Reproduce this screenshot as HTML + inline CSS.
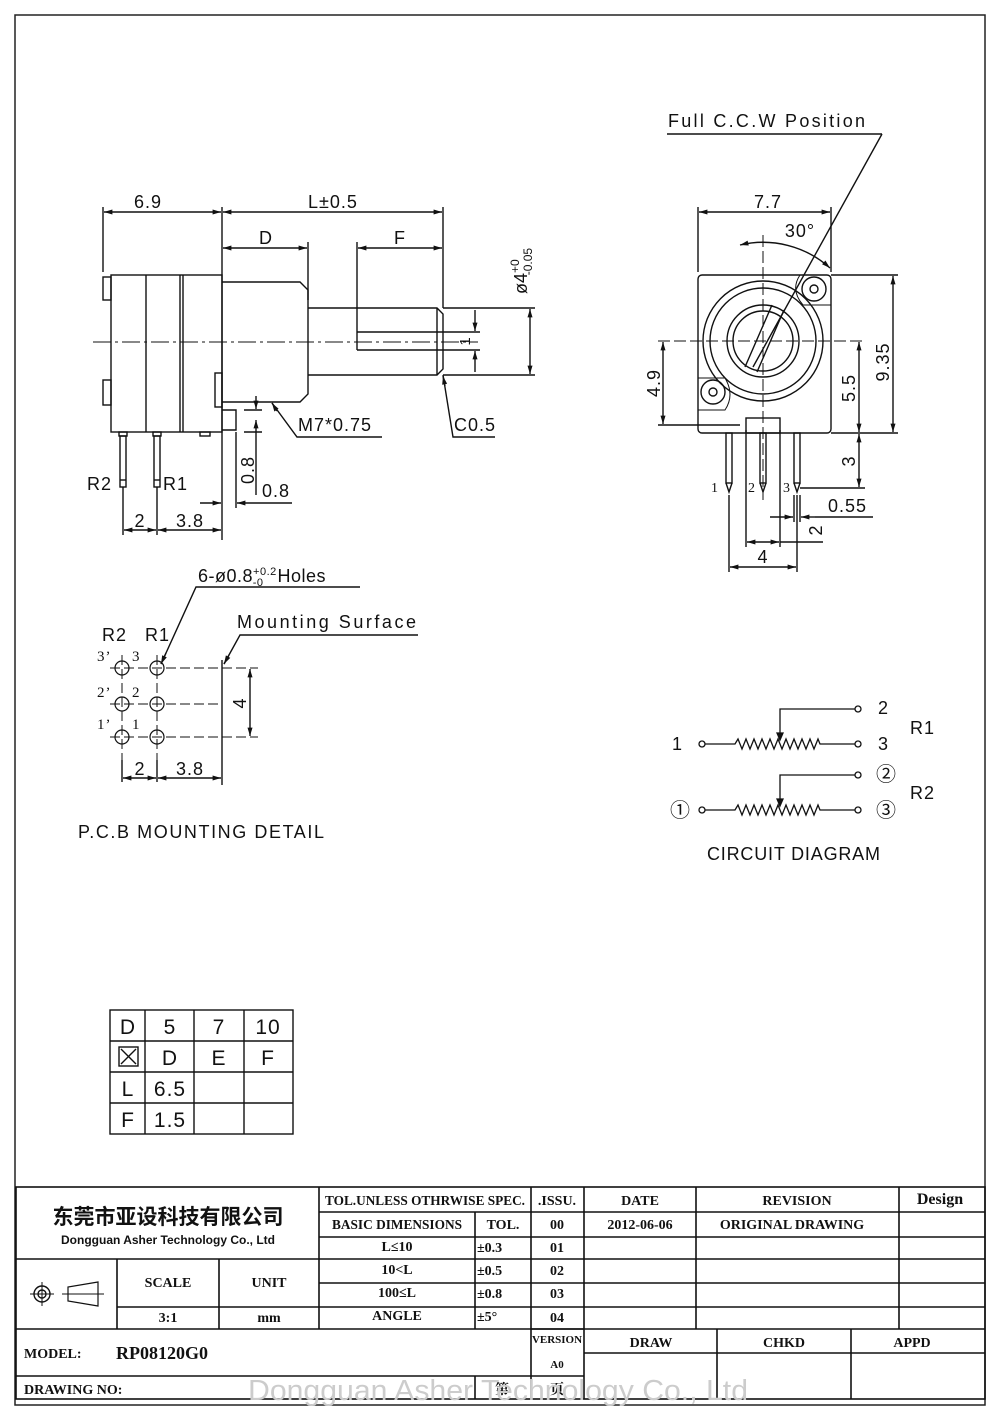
<!DOCTYPE html>
<html><head><meta charset="utf-8"><style>
html,body{margin:0;padding:0;background:#fff}
svg{display:block}
text{font-family:"Liberation Sans","Noto Sans CJK SC",sans-serif;fill:#111}
.s{font-family:"Liberation Serif","Noto Serif CJK SC",serif}
</style></head><body>
<svg width="1000" height="1415" viewBox="0 0 1000 1415" xmlns="http://www.w3.org/2000/svg">
<defs>
<marker id="a" viewBox="0 0 10 10" refX="10" refY="5" markerWidth="8" markerHeight="6" orient="auto-start-reverse"><path d="M0,2 L10,5 L0,8z" fill="#111"/></marker>
</defs>
<rect x="15" y="15" width="970" height="1390" fill="none" stroke="#222" stroke-width="1.5"/>
<g stroke="#111" stroke-width="1.4" fill="none">
<line x1="103" y1="207" x2="103" y2="272"/>
<line x1="222" y1="207" x2="222" y2="540"/>
<line x1="443" y1="207" x2="443" y2="308"/>
<line x1="308" y1="242" x2="308" y2="300"/>
<line x1="357" y1="242" x2="357" y2="332"/>
<line x1="104" y1="212" x2="221" y2="212" marker-start="url(#a)" marker-end="url(#a)"/>
<line x1="223" y1="212" x2="442" y2="212" marker-start="url(#a)" marker-end="url(#a)"/>
<line x1="223" y1="248" x2="307" y2="248" marker-start="url(#a)" marker-end="url(#a)"/>
<line x1="358" y1="248" x2="442" y2="248" marker-start="url(#a)" marker-end="url(#a)"/>
<rect x="111" y="275" width="111" height="157"/>
<line x1="146" y1="275" x2="146" y2="432"/>
<line x1="180" y1="275" x2="180" y2="432"/>
<line x1="183" y1="275" x2="183" y2="432"/>
<rect x="103" y="277" width="8" height="23"/>
<rect x="103" y="380" width="8" height="25"/>
<rect x="215" y="373" width="7" height="34"/>
<path d="M222,282 H300 L308,290 V394 L300,402 H222"/>
<path d="M222,410 H236 V430 H222"/>
<path d="M308,308 H437 L443,314 V369 L437,375 H308"/>
<path d="M357,332 H443 M357,350 H443 M357,332 V350"/>
<line x1="437" y1="308" x2="437" y2="375"/>
<line x1="93" y1="342" x2="478" y2="342" stroke-dasharray="18,4,3,4" stroke-width="1"/>
<rect x="119" y="432" width="8" height="4"/><rect x="153" y="432" width="8" height="4"/><rect x="200" y="432" width="10" height="4"/>
<rect x="120" y="436" width="6" height="51"/><rect x="154" y="436" width="6" height="51"/>
<line x1="120" y1="480" x2="126" y2="480"/><line x1="154" y1="480" x2="160" y2="480"/>
<line x1="443" y1="308" x2="535" y2="308"/><line x1="443" y1="375" x2="535" y2="375"/>
<line x1="530" y1="309" x2="530" y2="374" marker-start="url(#a)" marker-end="url(#a)"/>
<line x1="443" y1="332" x2="480" y2="332"/><line x1="443" y1="350" x2="480" y2="350"/>
<line x1="475" y1="310" x2="475" y2="331" marker-end="url(#a)"/><line x1="475" y1="372" x2="475" y2="351" marker-end="url(#a)"/>
<line x1="256" y1="396" x2="256" y2="409" marker-end="url(#a)"/><line x1="256" y1="420" x2="256" y2="433" marker-start="url(#a)"/>
<line x1="244" y1="410" x2="262" y2="410"/><line x1="244" y1="432" x2="262" y2="432"/>
<line x1="256" y1="433" x2="256" y2="495"/>
<line x1="236" y1="432" x2="236" y2="508"/>
<line x1="200" y1="503" x2="221" y2="503" marker-end="url(#a)"/><line x1="258" y1="503" x2="237" y2="503" marker-end="url(#a)"/><line x1="258" y1="503" x2="292" y2="503"/>
<path d="M272,403 L297,437 H382"/>
<line x1="272" y1="403" x2="277" y2="411" marker-start="url(#a)"/>
<path d="M443,375 L453,437 H495"/>
<line x1="443" y1="376" x2="445" y2="386" marker-start="url(#a)"/>
<line x1="123" y1="487" x2="123" y2="535"/><line x1="157" y1="487" x2="157" y2="535"/>
<line x1="124" y1="530" x2="156" y2="530" marker-start="url(#a)" marker-end="url(#a)"/>
<line x1="158" y1="530" x2="221" y2="530" marker-start="url(#a)" marker-end="url(#a)"/>
<line x1="667" y1="134" x2="882" y2="134"/>
<line x1="882" y1="134" x2="753" y2="367"/>
<line x1="698" y1="207" x2="698" y2="272"/><line x1="831" y1="207" x2="831" y2="272"/>
<line x1="699" y1="212" x2="830" y2="212" marker-start="url(#a)" marker-end="url(#a)"/>
<rect x="698" y="275" width="133" height="158" rx="4"/>
<circle cx="763" cy="341" r="60"/><circle cx="763" cy="341" r="53"/>
<circle cx="763" cy="341" r="36"/><circle cx="763" cy="341" r="30"/>
<path d="M745,367 L772,305 M757,372 L784,310"/>
<circle cx="814" cy="289" r="12"/><circle cx="814" cy="289" r="4"/>
<circle cx="713" cy="392" r="12"/><circle cx="713" cy="392" r="4"/>
<path d="M800,275 Q790,290 803,305 L831,305 M698,378 L725,378 Q735,395 725,410 L698,410" stroke-width="1"/>
<line x1="658" y1="341" x2="862" y2="341" stroke-dasharray="12,4" stroke-width="1"/>
<line x1="763" y1="235" x2="763" y2="500" stroke-dasharray="12,4" stroke-width="1"/>
<path d="M740,245 A100,100 0 0 1 830,268" marker-start="url(#a)" marker-end="url(#a)"/>
<rect x="746" y="418" width="34" height="15"/>
<line x1="658" y1="425" x2="740" y2="425"/>
<line x1="663" y1="342" x2="663" y2="424" marker-start="url(#a)" marker-end="url(#a)"/>
<line x1="831" y1="275" x2="898" y2="275"/><line x1="831" y1="433" x2="898" y2="433"/>
<line x1="893" y1="276" x2="893" y2="432" marker-start="url(#a)" marker-end="url(#a)"/>
<line x1="859" y1="342" x2="859" y2="432" marker-start="url(#a)" marker-end="url(#a)"/>
<line x1="859" y1="434" x2="859" y2="487" marker-start="url(#a)" marker-end="url(#a)"/>
<line x1="800" y1="488" x2="865" y2="488"/>
<rect x="726" y="433" width="6" height="50"/><rect x="760" y="433" width="6" height="50"/><rect x="794" y="433" width="6" height="50"/>
<path d="M726,483 L729,492 L732,483 M760,483 L763,492 L766,483 M794,483 L797,492 L800,483"/>
<line x1="729" y1="495" x2="729" y2="572"/><line x1="746" y1="430" x2="746" y2="547"/>
<line x1="780" y1="430" x2="780" y2="547"/><line x1="794" y1="495" x2="794" y2="522"/><line x1="800" y1="495" x2="800" y2="522"/><line x1="797" y1="495" x2="797" y2="572"/>
<line x1="770" y1="517" x2="793" y2="517" marker-end="url(#a)"/><line x1="815" y1="517" x2="801" y2="517" marker-end="url(#a)"/><line x1="815" y1="517" x2="873" y2="517"/>
<line x1="747" y1="542" x2="779" y2="542" marker-start="url(#a)" marker-end="url(#a)"/><line x1="780" y1="542" x2="823" y2="542"/>
<line x1="730" y1="567" x2="796" y2="567" marker-start="url(#a)" marker-end="url(#a)"/>
<g stroke-width="1.2">
<circle cx="122" cy="668" r="7"/><circle cx="157" cy="668" r="7"/>
<circle cx="122" cy="704" r="7"/><circle cx="157" cy="704" r="7"/>
<circle cx="122" cy="737" r="7"/><circle cx="157" cy="737" r="7"/>
</g>
<g stroke-dasharray="10,4" stroke-width="1">
<line x1="110" y1="668" x2="258" y2="668"/><line x1="110" y1="704" x2="218" y2="704"/><line x1="110" y1="737" x2="258" y2="737"/>
<line x1="122" y1="655" x2="122" y2="760"/><line x1="157" y1="655" x2="157" y2="760"/>
</g>
<line x1="222" y1="660" x2="222" y2="785"/>
<line x1="250" y1="669" x2="250" y2="736" marker-start="url(#a)" marker-end="url(#a)"/>
<line x1="122" y1="760" x2="122" y2="782"/><line x1="157" y1="760" x2="157" y2="782"/>
<line x1="123" y1="778" x2="156" y2="778" marker-start="url(#a)" marker-end="url(#a)"/>
<line x1="158" y1="778" x2="221" y2="778" marker-start="url(#a)" marker-end="url(#a)"/>
<path d="M360,587 H196 L161,664" /><line x1="166" y1="653" x2="161" y2="664" marker-end="url(#a)"/>
<path d="M418,635 H240 L224,664"/><line x1="229" y1="655" x2="224" y2="664" marker-end="url(#a)"/>
<g stroke-width="1.3">
<circle cx="702" cy="744" r="3"/><circle cx="858" cy="744" r="3"/><circle cx="858" cy="709" r="3"/>
<path d="M705,744 H735 l3,-5 l4,10 l4,-10 l4,10 l4,-10 l4,10 l4,-10 l4,10 l4,-10 l4,10 l4,-10 l4,10 l4,-10 l4,10 l4,-10 l4,10 l4,-10 l4,10 l4,-10 l4,10 l4,-10 l2,5 H855"/>
<path d="M855,709 H780 V738"/><path d="M777,733 L780,740 L783,733z" fill="#111"/>
<circle cx="702" cy="810" r="3"/><circle cx="858" cy="810" r="3"/><circle cx="858" cy="775" r="3"/>
<path d="M705,810 H735 l3,-5 l4,10 l4,-10 l4,10 l4,-10 l4,10 l4,-10 l4,10 l4,-10 l4,10 l4,-10 l4,10 l4,-10 l4,10 l4,-10 l4,10 l4,-10 l4,10 l4,-10 l4,10 l4,-10 l2,5 H855"/>
<path d="M855,775 H780 V804"/><path d="M777,799 L780,806 L783,799z" fill="#111"/>
</g>
<rect x="110" y="1010" width="183" height="124"/>
<line x1="145" y1="1010" x2="145" y2="1134"/><line x1="194" y1="1010" x2="194" y2="1134"/><line x1="244" y1="1010" x2="244" y2="1134"/>
<line x1="110" y1="1041" x2="293" y2="1041"/><line x1="110" y1="1072" x2="293" y2="1072"/><line x1="110" y1="1103" x2="293" y2="1103"/>
<rect x="119" y="1047" width="19" height="19"/><path d="M121,1049 L136,1064 M136,1049 L121,1064"/>
<g stroke-width="1.6">
<rect x="16" y="1187" width="969" height="212"/>
<line x1="16" y1="1259" x2="319" y2="1259"/>
<line x1="16" y1="1329" x2="584" y2="1329"/>
<line x1="319" y1="1187" x2="319" y2="1329"/>
<line x1="531" y1="1187" x2="531" y2="1399"/>
<line x1="584" y1="1187" x2="584" y2="1399"/>
<line x1="319" y1="1212" x2="985" y2="1212"/>
<line x1="319" y1="1237" x2="985" y2="1237"/>
<line x1="319" y1="1259" x2="985" y2="1259"/>
<line x1="319" y1="1283" x2="985" y2="1283"/>
<line x1="117" y1="1307" x2="985" y2="1307"/>
<line x1="531" y1="1329" x2="985" y2="1329"/>
<line x1="584" y1="1353" x2="985" y2="1353"/>
<line x1="16" y1="1376" x2="584" y2="1376"/>
<line x1="475" y1="1212" x2="475" y2="1329"/>
<line x1="475" y1="1376" x2="475" y2="1399"/>
<line x1="696" y1="1187" x2="696" y2="1329"/>
<line x1="899" y1="1187" x2="899" y2="1329"/>
<line x1="117" y1="1259" x2="117" y2="1329"/>
<line x1="219" y1="1259" x2="219" y2="1329"/>
<line x1="717" y1="1329" x2="717" y2="1399"/>
<line x1="851" y1="1329" x2="851" y2="1399"/>
</g>
<circle cx="42" cy="1294" r="8"/><circle cx="42" cy="1294" r="4"/>
<line x1="30" y1="1294" x2="54" y2="1294" stroke-width="1"/><line x1="42" y1="1282" x2="42" y2="1306" stroke-width="1"/>
<path d="M68,1287 L68,1301 L98,1306 L98,1282 Z" stroke-width="1.2"/><line x1="62" y1="1294" x2="104" y2="1294" stroke-width="1"/>
</g>
<g font-size="18" letter-spacing="1">
<text x="148" y="208" text-anchor="middle">6.9</text>
<text x="333" y="208" text-anchor="middle">L±0.5</text>
<text x="266" y="244" text-anchor="middle">D</text>
<text x="400" y="244" text-anchor="middle">F</text>
<text transform="translate(527,294) rotate(-90)" font-size="18" letter-spacing="0">ø4<tspan font-size="12" dy="-8">+0</tspan><tspan font-size="12" dx="-16" dy="13">-0.05</tspan></text>
<text transform="translate(470,341) rotate(-90)" text-anchor="middle" font-size="15">1</text>
<text x="298" y="431">M7*0.75</text>
<text x="454" y="431">C0.5</text>
<text x="87" y="490">R2</text>
<text x="163" y="490">R1</text>
<text transform="translate(254,470) rotate(-90)" text-anchor="middle">0.8</text>
<text x="262" y="497">0.8</text>
<text x="140" y="527" text-anchor="middle">2</text>
<text x="190" y="527" text-anchor="middle">3.8</text>
<text x="668" y="127" textLength="198" lengthAdjust="spacing">Full  C.C.W  Position</text>
<text x="768" y="208" text-anchor="middle">7.7</text>
<text x="800" y="237" text-anchor="middle">30°</text>
<text transform="translate(660,383) rotate(-90)" text-anchor="middle">4.9</text>
<text transform="translate(855,388) rotate(-90)" text-anchor="middle">5.5</text>
<text transform="translate(889,362) rotate(-90)" text-anchor="middle">9.35</text>
<text transform="translate(855,461) rotate(-90)" text-anchor="middle">3</text>
<text class="s" x="711" y="492" font-size="14">1</text>
<text class="s" x="748" y="492" font-size="14">2</text>
<text class="s" x="783" y="492" font-size="14">3</text>
<text x="828" y="512">0.55</text>
<text transform="translate(822,530) rotate(-90)" text-anchor="middle">2</text>
<text x="763" y="563" text-anchor="middle">4</text>
<text x="198" y="582" letter-spacing="0.5">6-ø0.8<tspan font-size="11" dy="-7">+0.2</tspan><tspan font-size="11" dx="-24" dy="11">-0</tspan><tspan dx="14" dy="-4">Holes</tspan></text>
<text x="237" y="628" textLength="180" lengthAdjust="spacing">Mounting  Surface</text>
<text x="102" y="641">R2</text><text x="145" y="641">R1</text>
<text class="s" x="97" y="661" font-size="15">3’</text><text class="s" x="132" y="661" font-size="15">3</text>
<text class="s" x="97" y="697" font-size="15">2’</text><text class="s" x="132" y="697" font-size="15">2</text>
<text class="s" x="97" y="729" font-size="15">1’</text><text class="s" x="132" y="729" font-size="15">1</text>
<text transform="translate(246,703) rotate(-90)" text-anchor="middle">4</text>
<text x="140" y="775" text-anchor="middle">2</text>
<text x="190" y="775" text-anchor="middle">3.8</text>
<text x="78" y="838" textLength="247" lengthAdjust="spacing">P.C.B  MOUNTING  DETAIL</text>
<text x="672" y="750">1</text>
<text x="878" y="714">2</text><text x="878" y="750">3</text><text x="910" y="734">R1</text>
<text x="670" y="817" font-size="20">①</text>
<text x="876" y="781" font-size="20">②</text><text x="876" y="817" font-size="20">③</text><text x="910" y="799">R2</text>
<text x="707" y="860" textLength="174" lengthAdjust="spacing">CIRCUIT  DIAGRAM</text>
<g font-size="21" text-anchor="middle">
<text x="128" y="1034">D</text><text x="170" y="1034">5</text><text x="219" y="1034">7</text><text x="268" y="1034">10</text>
<text x="170" y="1065">D</text><text x="219" y="1065">E</text><text x="268" y="1065">F</text>
<text x="128" y="1096">L</text><text x="170" y="1096">6.5</text>
<text x="128" y="1127">F</text><text x="170" y="1127">1.5</text>
</g>
</g>
<g class="s" font-size="14" font-weight="bold">
<text x="168" y="1224" text-anchor="middle" font-size="21" font-weight="bold" style="font-family:'Noto Sans CJK SC',sans-serif">东莞市亚设科技有限公司</text>
<text x="168" y="1244" text-anchor="middle" font-size="12" font-weight="bold" style="font-family:'Liberation Sans',sans-serif">Dongguan Asher Technology Co., Ltd</text>
<text class="s" x="425" y="1205" text-anchor="middle" textLength="200" lengthAdjust="spacingAndGlyphs">TOL.UNLESS OTHRWISE SPEC.</text>
<text class="s" x="557" y="1205" text-anchor="middle">.ISSU.</text>
<text class="s" x="640" y="1205" text-anchor="middle">DATE</text>
<text class="s" x="797" y="1205" text-anchor="middle">REVISION</text>
<text class="s" x="940" y="1204" text-anchor="middle" font-size="16">Design</text>
<text class="s" x="397" y="1229" text-anchor="middle" textLength="130" lengthAdjust="spacingAndGlyphs">BASIC DIMENSIONS</text>
<text class="s" x="503" y="1229" text-anchor="middle">TOL.</text>
<text class="s" x="557" y="1229" text-anchor="middle">00</text>
<text class="s" x="640" y="1229" text-anchor="middle">2012-06-06</text>
<text class="s" x="792" y="1229" text-anchor="middle">ORIGINAL    DRAWING</text>
<text class="s" x="397" y="1251" text-anchor="middle">L≤10</text><text class="s" x="477" y="1252">±0.3</text><text class="s" x="557" y="1252" text-anchor="middle">01</text>
<text class="s" x="397" y="1274" text-anchor="middle">10&lt;L</text><text class="s" x="477" y="1275">±0.5</text><text class="s" x="557" y="1275" text-anchor="middle">02</text>
<text class="s" x="397" y="1297" text-anchor="middle">100≤L</text><text class="s" x="477" y="1298">±0.8</text><text class="s" x="557" y="1298" text-anchor="middle">03</text>
<text class="s" x="397" y="1320" text-anchor="middle">ANGLE</text><text class="s" x="477" y="1321">±5°</text><text class="s" x="557" y="1322" text-anchor="middle">04</text>
<text class="s" x="168" y="1287" text-anchor="middle">SCALE</text><text class="s" x="269" y="1287" text-anchor="middle">UNIT</text>
<text class="s" x="168" y="1322" text-anchor="middle">3:1</text><text class="s" x="269" y="1322" text-anchor="middle">mm</text>
<text class="s" x="557" y="1343" text-anchor="middle" font-size="11">VERSION</text>
<text class="s" x="557" y="1368" text-anchor="middle" font-size="11">A0</text>
<text class="s" x="651" y="1347" text-anchor="middle">DRAW</text><text class="s" x="784" y="1347" text-anchor="middle">CHKD</text><text class="s" x="912" y="1347" text-anchor="middle">APPD</text>
<text class="s" x="24" y="1358">MODEL:</text>
<text class="s" x="116" y="1359" font-size="18">RP08120G0</text>
<text class="s" x="24" y="1394">DRAWING NO:</text>
<text class="s" x="502" y="1394" text-anchor="middle">第</text><text class="s" x="557" y="1394" text-anchor="middle">页</text>
<text x="498" y="1400" text-anchor="middle" font-size="29" font-weight="normal" textLength="500" lengthAdjust="spacingAndGlyphs" style="fill:#ccc;font-family:'Liberation Sans',sans-serif">Dongguan Asher Technology Co., Ltd</text>
</g>
</svg>
</body></html>
